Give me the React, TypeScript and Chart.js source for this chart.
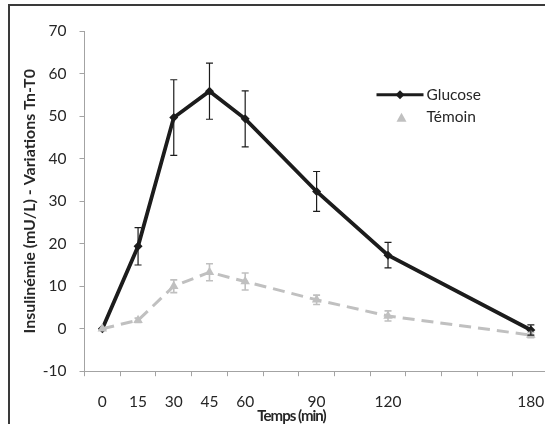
import React, { useEffect, useRef } from "react";
import { Chart, registerables } from "chart.js";

Chart.register(...registerables);

// ---- Data ----
const times = [0, 15, 30, 45, 60, 90, 120, 180];
const glucose = [0, 19.4, 49.7, 55.9, 49.4, 32.3, 17.3, -0.3];
const glucoseErr = [0, 4.4, 8.9, 6.6, 6.6, 4.7, 3.0, 1.2];
const temoin = [0, 2.0, 10.0, 13.3, 11.1, 6.8, 3.0, -1.5];
const temoinErr = [0, 0.5, 1.5, 2.0, 2.0, 1.1, 1.2, 0.6];
const xTickLabels = [0, 15, 30, 45, 60, 90, 120, 180];
const xMin = -7.5;
const xMax = 187.5;
const xStep = 7.5;
const yMin = -10;
const yMax = 70;
const yStep = 10;
const seriesNames = ["Glucose", "Témoin"];
const yTitle = "Insulinémie (mU/L) - Variations Tn-T0";
const xTitle = "Temps (min)";

const BLACK = "#1c1c1c";
const GREY = "#c0c0c0";
const AXIS = "#a3a3a3";
const TEXT = "#262626";

const errorBarsPlugin = {
  id: "errorBars",
  afterDatasetsDraw(chart: any) {
    const ctx = chart.ctx;
    const xs = chart.scales.x;
    const ys = chart.scales.y;
    const cap = 3.5;
    chart.data.datasets.forEach((ds: any) => {
      const errs: number[] = ds.errors || [];
      ctx.save();
      ctx.strokeStyle = ds.errorColor;
      ctx.lineWidth = ds.errorWidth;
      ds.data.forEach((p: any, j: number) => {
        const e = errs[j];
        if (!e) return;
        const px = xs.getPixelForValue(p.x);
        const top = ys.getPixelForValue(p.y + e);
        const bot = ys.getPixelForValue(p.y - e);
        ctx.beginPath();
        ctx.moveTo(px, top);
        ctx.lineTo(px, bot);
        ctx.moveTo(px - cap, top);
        ctx.lineTo(px + cap, top);
        ctx.moveTo(px - cap, bot);
        ctx.lineTo(px + cap, bot);
        ctx.stroke();
      });
      ctx.restore();
    });
  },
};

const legendTitlePlugin = {
  id: "customLegend",
  afterDraw(chart: any) {
    const ctx = chart.ctx;
    const a = chart.chartArea;
    const lx = a.left + 292; // start of legend line
    const ty = a.top + 63.5;
    const gap = 22;
    ctx.save();
    // Glucose: line + diamond
    ctx.strokeStyle = BLACK;
    ctx.lineWidth = 3;
    ctx.beginPath();
    ctx.moveTo(lx, ty);
    ctx.lineTo(lx + 47, ty);
    ctx.stroke();
    ctx.fillStyle = BLACK;
    ctx.beginPath();
    ctx.moveTo(lx + 23.5, ty - 4.5);
    ctx.lineTo(lx + 28, ty);
    ctx.lineTo(lx + 23.5, ty + 4.5);
    ctx.lineTo(lx + 19, ty);
    ctx.closePath();
    ctx.fill();
    // Témoin: triangle
    ctx.fillStyle = GREY;
    const cx = lx + 25;
    const cy = ty + gap + 1;
    ctx.beginPath();
    ctx.moveTo(cx, cy - 5);
    ctx.lineTo(cx + 5, cy + 4);
    ctx.lineTo(cx - 5, cy + 4);
    ctx.closePath();
    ctx.fill();
    // Texts
    ctx.fillStyle = TEXT;
    ctx.font = "15.5px Lato";
    ctx.textBaseline = "middle";
    ctx.textAlign = "left";
    ctx.fillText(seriesNames[0], lx + 50, ty);
    ctx.fillText(seriesNames[1], lx + 50, ty + gap);
    // X axis title
    ctx.font = "bold 15px Lato";
    (ctx as any).letterSpacing = "-1px";
    ctx.textAlign = "center";
    ctx.fillText(xTitle, a.left + 207, a.bottom + 45);
    ctx.restore();
  },
};

export default function App() {
  const ref = useRef<HTMLCanvasElement | null>(null);

  useEffect(() => {
    if (!ref.current) return;
    Chart.defaults.font.family = "Lato";
    const chart = new Chart(ref.current, {
      type: "line",
      data: {
        datasets: [
          {
            label: seriesNames[1],
            data: times.map((t, i) => ({ x: t, y: temoin[i] })),
            borderColor: GREY,
            backgroundColor: GREY,
            borderWidth: 3,
            borderDash: [12, 7],
            pointStyle: "triangle",
            pointRadius: 5.5,
            pointBorderWidth: 0,
            pointBackgroundColor: GREY,
            tension: 0,
            order: 0,
            errors: temoinErr,
            errorColor: GREY,
            errorWidth: 1.6,
          } as any,
          {
            label: seriesNames[0],
            data: times.map((t, i) => ({ x: t, y: glucose[i] })),
            borderColor: BLACK,
            backgroundColor: BLACK,
            borderWidth: 3.8,
            pointStyle: "rectRot",
            pointRadius: 4.5,
            pointBorderWidth: 0,
            pointBackgroundColor: BLACK,
            tension: 0,
            order: 1,
            errors: glucoseErr,
            errorColor: BLACK,
            errorWidth: 1.2,
          } as any,
        ],
      },
      options: {
        responsive: false,
        animation: false,
        layout: { padding: { left: 0, top: 31.3, right: 31.3, bottom: 0 } },
        plugins: {
          legend: { display: false },
          tooltip: { enabled: false },
        },
        scales: {
          x: {
            type: "linear",
            min: xMin,
            max: xMax,
            afterBuildTicks: (scale: any) => {
              const ticks = [];
              for (let v = xMin; v <= xMax + 1e-9; v += xStep) ticks.push({ value: v });
              scale.ticks = ticks;
            },
            afterFit: (scale: any) => {
              scale.height = 52.8;
            },
            ticks: {
              autoSkip: false,
              maxRotation: 0,
              minRotation: 0,
              padding: 16,
              color: TEXT,
              font: { size: 15.5 },
              callback: (v: any) => (xTickLabels.includes(Number(v)) ? String(v) : ""),
            },
            grid: {
              drawOnChartArea: false,
              drawTicks: true,
              tickLength: 5,
              color: (c: any) =>
                c.tick && Math.abs(c.tick.value % 15) < 1e-6 ? "rgba(0,0,0,0)" : AXIS,
            },
            border: { display: true, color: AXIS, width: 1 },
          },
          y: {
            type: "linear",
            min: yMin,
            max: yMax,
            afterFit: (scale: any) => {
              scale.width = 84.5;
            },
            ticks: {
              stepSize: yStep,
              padding: 13,
              color: TEXT,
              font: { size: 15.5 },
            },
            grid: {
              drawOnChartArea: false,
              drawTicks: true,
              tickLength: 5,
              color: AXIS,
            },
            border: { display: true, color: AXIS, width: 1 },
            title: {
              display: true,
              text: yTitle,
              color: TEXT,
              font: { size: 16, weight: "bold" },
              padding: { top: 20.6, bottom: 0 },
            },
          },
        },
      },
      plugins: [errorBarsPlugin, legendTitlePlugin],
    } as any);
    return () => chart.destroy();
  }, []);

  return (
    <div
      style={{
        position: "fixed",
        left: 0,
        top: 0,
        width: 545,
        height: 424,
        overflow: "hidden",
        background: "#fff",
      }}
    >
      <div
        style={{
          position: "absolute",
          left: 8,
          top: 4,
          width: 700,
          height: 600,
          borderLeft: "2px solid #3a3a3a",
          borderTop: "2px solid #3a3a3a",
          boxSizing: "border-box",
        }}
      />
      <canvas
        ref={ref}
        width={580}
        height={424}
        style={{ position: "absolute", left: 0, top: 0, width: 580, height: 424 }}
      />
    </div>
  );
}
